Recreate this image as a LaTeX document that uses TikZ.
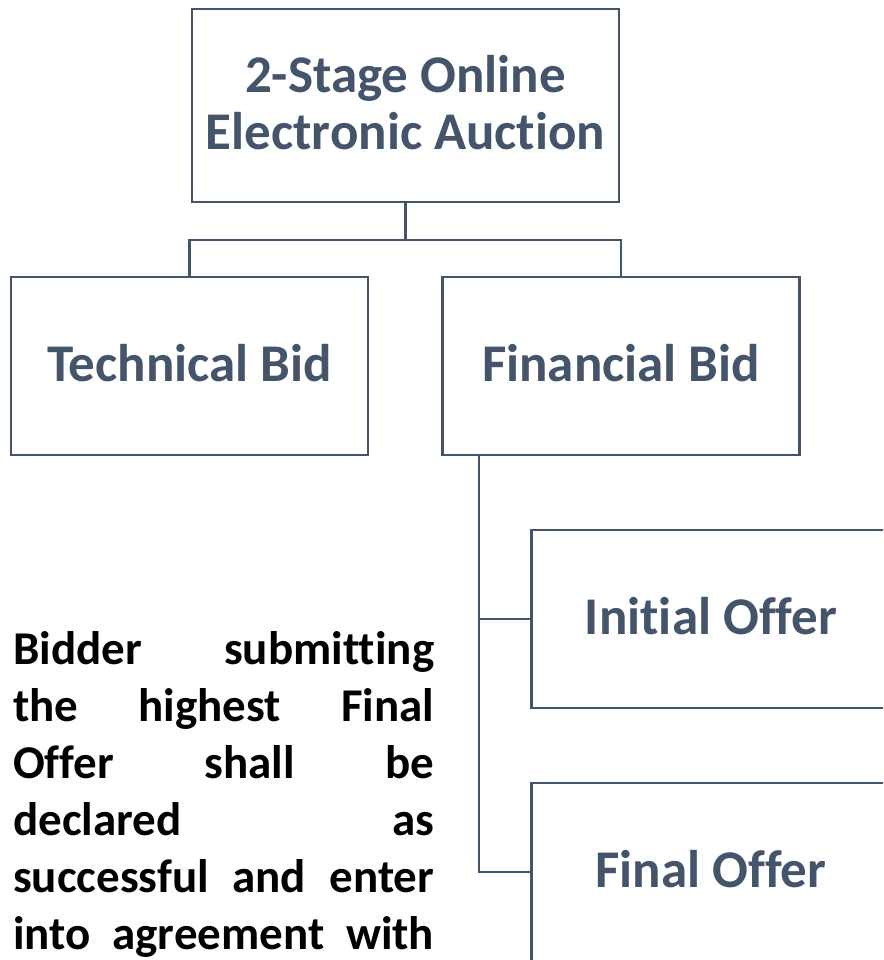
\documentclass[tikz,border=0pt]{standalone}
\usepackage{fontspec}
\setmainfont{Carlito}[Ligatures={NoCommon}]
\definecolor{slate}{HTML}{44546A}
\begin{document}
\begin{tikzpicture}[x=1pt,y=-1pt,
  box/.style={draw=slate,line width=2.5pt,inner sep=0pt,text=slate,
    font=\fontsize{53}{58}\selectfont\bfseries,align=center,text depth=6pt},
  conn/.style={draw=slate,line width=2.5pt},
  body/.style={inner sep=0pt,anchor=base west,text=black,
    font=\fontsize{47}{57}\selectfont\bfseries}]
\useasboundingbox (0,0) rectangle (883,960);
\clip (0,0) rectangle (883,960);
\fill[white] (0,0) rectangle (883,960);
\node[box,minimum width=427pt,minimum height=193pt] (top) at (405.5,105.5) {};
\node[inner sep=0pt,text=slate,font=\fontsize{53}{58}\selectfont\bfseries,align=center] (toptext) at (405.5,103) {2-Stage Online\\[-1pt]Electronic Auction};
\node[box,minimum width=357pt,minimum height=178pt] (tech) at (189.5,366) {Technical Bid};
\node[box,minimum width=357pt,minimum height=178pt] (fin) at (621,366) {Financial Bid};
\node[box,minimum width=359pt,minimum height=178pt] (init) at (711,619) {Initial Offer};
\node[box,minimum width=359pt,minimum height=178pt] (final) at (711,872) {Final Offer};
\coordinate (j) at (405.5,240);
\coordinate (v) at (479,455);
\draw[conn] (top.south) -- (j);
\draw[conn] (tech.north) |- (j) -| (fin.north);
\draw[conn] (v) |- (init.west);
\draw[conn] (v) |- (final.west);
\node[body] (l1) at (13,664) {\makebox[421pt][s]{Bidder submitting}};
\node[body] (l2) at (13,721) {\makebox[421pt][s]{the highest Final}};
\node[body] (l3) at (13,778) {\makebox[421pt][s]{Offer shall be}};
\node[body] (l4) at (13,835) {\makebox[421pt][s]{declared as}};
\node[body] (l5) at (13,892) {\makebox[421pt][s]{successful and enter}};
\node[body] (l6) at (13,949) {\makebox[421pt][s]{into agreement with}};
\end{tikzpicture}
\end{document}
